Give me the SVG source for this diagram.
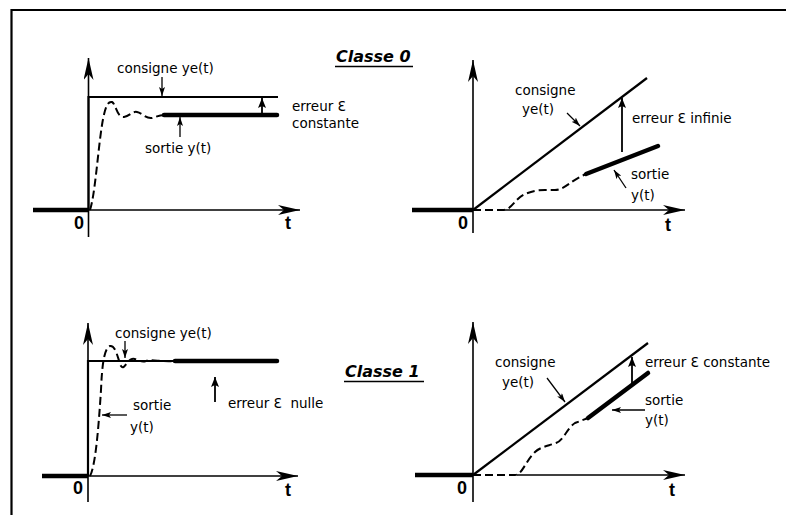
<svg xmlns="http://www.w3.org/2000/svg" width="786" height="515" viewBox="0 0 786 515">
<style>
.frame{fill:none;stroke:#000;stroke-width:2.2}
.ax{fill:none;stroke:#000;stroke-width:1.6}
.zero{fill:none;stroke:#000;stroke-width:4.5}
.ref{fill:none;stroke:#000;stroke-width:2.2}
.out{fill:none;stroke:#000;stroke-width:4.5;stroke-linecap:round}
.dash{fill:none;stroke:#000;stroke-width:2;stroke-dasharray:8 4}
.ann{fill:none;stroke:#000;stroke-width:1.3}
.err{fill:none;stroke:#000;stroke-width:1.8}
.lbl{font-family:"DejaVu Sans",sans-serif;font-size:13.5px;fill:#000}
.axl{font-family:"Liberation Sans",Arial,sans-serif;font-size:18px;font-weight:bold;fill:#000}
.title{font-family:"DejaVu Sans",sans-serif;font-size:16px;font-weight:bold;font-style:italic;fill:#000}
</style>
<defs>
<marker id="axh" viewBox="0 0 22 10" refX="22" refY="5" markerWidth="22" markerHeight="10" markerUnits="userSpaceOnUse" orient="auto">
<path d="M0,0 L22,5 L0,10 L6,5 Z" fill="#000"/>
</marker>
<marker id="sh" viewBox="0 0 9 6" refX="9" refY="3" markerWidth="9" markerHeight="6" markerUnits="userSpaceOnUse" orient="auto">
<path d="M0,0 L9,3 L0,6 L2,3 Z" fill="#000"/>
</marker>
<marker id="eh" viewBox="0 0 10 8" refX="10" refY="4" markerWidth="10" markerHeight="8" markerUnits="userSpaceOnUse" orient="auto">
<path d="M0,0 L10,4 L0,8 L2,4 Z" fill="#000"/>
</marker>
</defs>

<g id="frame">
<path class="frame" d="M11.5,515 L11.5,10 L786,10"/>
</g>

<g id="titles">
<text class="title" x="336" y="62">Classe 0</text>
<line x1="335" y1="66.5" x2="413" y2="66.5" stroke="#000" stroke-width="1.6"/>
<text class="title" x="345" y="377">Classe 1</text>
<line x1="344" y1="381.5" x2="424" y2="381.5" stroke="#000" stroke-width="1.6"/>
</g>

<!-- Panel 1: class 0, step -->
<g id="panel1">
<g id="p1-axes">
<line class="ax" x1="88.5" y1="237" x2="88.5" y2="58" marker-end="url(#axh)"/>
<line class="ax" x1="88.5" y1="210" x2="300" y2="210" marker-end="url(#axh)"/>
<line class="zero" x1="33" y1="210" x2="88" y2="210"/>
<text class="axl" x="74" y="229">0</text>
<text class="axl" x="285" y="229">t</text>
</g>
<g id="p1-curves">
<path class="ref" d="M88.5,210 L88.5,97 L278,97"/>
<line class="out" x1="164" y1="115" x2="277" y2="115"/>
<path class="dash" d="M90,210 C95,195 98,150 102,125 C105,106 108,101 112,102 C116,104 117,118 124,117 C130,116 132,111 137,112 C142,113 146,119 152,118 C156,117 159,115 164,115"/>
</g>
<g id="p1-labels">
<text class="lbl" x="117" y="73">consigne ye(t)</text>
<line class="ann" x1="162" y1="77" x2="162" y2="96" marker-end="url(#sh)"/>
<text class="lbl" x="145" y="153">sortie y(t)</text>
<line class="ann" x1="180" y1="137" x2="180" y2="117" marker-end="url(#sh)"/>
<line class="err" x1="262" y1="114" x2="262" y2="98" marker-end="url(#eh)"/>
<text class="lbl" x="292" y="111">erreur Ɛ</text>
<text class="lbl" x="292" y="128">constante</text>
</g>
</g>

<!-- Panel 2: class 0, ramp -->
<g id="panel2">
<g id="p2-axes">
<line class="ax" x1="473" y1="233" x2="473" y2="60" marker-end="url(#axh)"/>
<line class="ax" x1="505" y1="210" x2="685" y2="210" marker-end="url(#axh)"/>
<line class="zero" x1="412" y1="210" x2="473" y2="210"/>
<text class="axl" x="458" y="229">0</text>
<text class="axl" x="665" y="231">t</text>
</g>
<g id="p2-curves">
<line class="ref" x1="473" y1="210" x2="647" y2="78"/>
<line class="out" x1="586" y1="174" x2="658" y2="146"/>
<path class="dash" d="M473,210 L503,210 C512,210 515,198 525,194 C530,192 535,190 545,190 L555,190 C564,190 570,181 586,174"/>
</g>
<g id="p2-labels">
<text class="lbl" x="515" y="95">consigne</text>
<text class="lbl" x="522" y="114">ye(t)</text>
<line class="ann" x1="567" y1="113" x2="580" y2="126" marker-end="url(#sh)"/>
<line class="err" x1="622" y1="152" x2="622" y2="98" marker-end="url(#eh)"/>
<text class="lbl" x="632" y="123">erreur Ɛ infinie</text>
<text class="lbl" x="631" y="179">sortie</text>
<text class="lbl" x="631" y="200">y(t)</text>
<line class="ann" x1="626" y1="188" x2="614" y2="170" marker-end="url(#sh)"/>
</g>
</g>

<!-- Panel 3: class 1, step -->
<g id="panel3">
<g id="p3-axes">
<line class="ax" x1="88" y1="502" x2="88" y2="323" marker-end="url(#axh)"/>
<line class="ax" x1="88" y1="476" x2="298" y2="476" marker-end="url(#axh)"/>
<line class="zero" x1="42" y1="476" x2="88" y2="476"/>
<text class="axl" x="73" y="494">0</text>
<text class="axl" x="285" y="496">t</text>
</g>
<g id="p3-curves">
<path class="ref" d="M88,476 L88,361 L277,361"/>
<line class="out" x1="175" y1="361" x2="277" y2="361"/>
<path class="dash" d="M90,476 C96,465 99,420 101,390 C102,366 104,348 110,346 C116,345 118,360 121,366 C124,371 127,360 132,359 C137,358 140,363 146,361 C152,359 160,362 175,361"/>
</g>
<g id="p3-labels">
<text class="lbl" x="115" y="338">consigne ye(t)</text>
<line class="ann" x1="125" y1="341" x2="125" y2="358" marker-end="url(#sh)"/>
<text class="lbl" x="133" y="410">sortie</text>
<text class="lbl" x="130" y="432">y(t)</text>
<line class="ann" x1="127" y1="415" x2="102" y2="415" marker-end="url(#sh)"/>
<line class="err" x1="215" y1="402" x2="215" y2="377" marker-end="url(#eh)"/>
<text class="lbl" x="228" y="408" xml:space="preserve" style="white-space:pre">erreur Ɛ  nulle</text>
</g>
</g>

<!-- Panel 4: class 1, ramp -->
<g id="panel4">
<g id="p4-axes">
<line class="ax" x1="473" y1="502" x2="473" y2="322" marker-end="url(#axh)"/>
<line class="ax" x1="517" y1="475" x2="685" y2="475" marker-end="url(#axh)"/>
<line class="zero" x1="415" y1="475" x2="473" y2="475"/>
<text class="axl" x="457" y="494">0</text>
<text class="axl" x="669" y="496">t</text>
</g>
<g id="p4-curves">
<line class="ref" x1="473" y1="475" x2="648" y2="343"/>
<line class="out" x1="588" y1="418" x2="648" y2="373"/>
<path class="dash" d="M473,475 L515,475 C522,475 525,462 535,452 C540,447 548,446 556,443 C564,440 567,428 575,423 L588,418"/>
</g>
<g id="p4-labels">
<text class="lbl" x="495" y="367">consigne</text>
<text class="lbl" x="502" y="387">ye(t)</text>
<line class="ann" x1="547" y1="378" x2="565" y2="402" marker-end="url(#sh)"/>
<line class="err" x1="632" y1="383" x2="632" y2="357" marker-end="url(#eh)"/>
<text class="lbl" x="645" y="367">erreur Ɛ constante</text>
<text class="lbl" x="645" y="405">sortie</text>
<text class="lbl" x="645" y="425">y(t)</text>
<line class="ann" x1="645" y1="410" x2="612" y2="410" marker-end="url(#sh)"/>
</g>
</g>
</svg>
